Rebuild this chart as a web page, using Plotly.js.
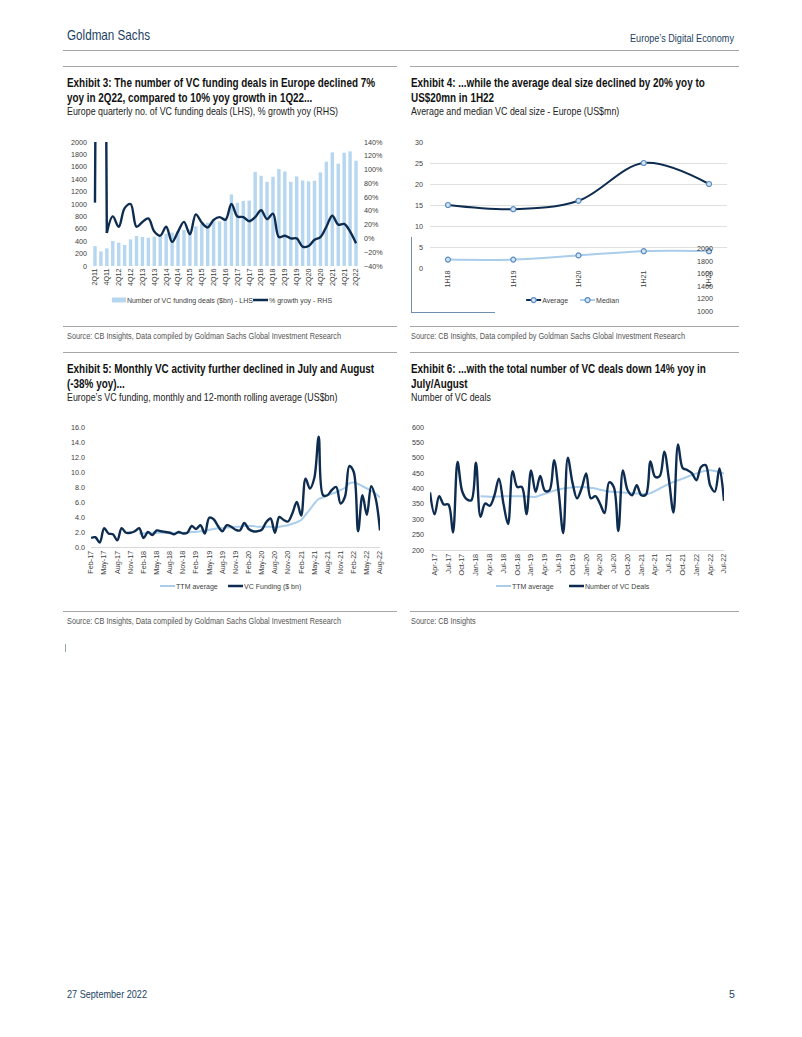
<!DOCTYPE html>
<html><head><meta charset="utf-8">
<script src="https://cdn.plot.ly/plotly-3.0.1.min.js"></script>
<style>
body{margin:0;background:#fff;}
#page{position:relative;width:802px;height:1037px;overflow:hidden;background:#fff;}
.t{position:absolute;white-space:nowrap;font-family:"Liberation Sans",Arial,sans-serif;color:#111;line-height:1.2;transform-origin:0 50%;}
.b{font-weight:bold;font-size:12.5px;}
.s{font-size:11px;color:#222;}
.src{font-size:8.3px;color:#555;}
.rule{position:absolute;height:0;border-top:1px solid #a6a6a6;}
.chart{position:absolute;}
.stray{position:absolute;font-family:"Liberation Sans",Arial,sans-serif;font-size:7.2px;color:#404040;}
</style></head>
<body><div id="page">
<div class="t" data-w="83" style="left:67px;top:27px;font-size:14.5px;color:#243f63;">Goldman Sachs</div>
<div class="t" data-w="104" style="left:630px;top:32px;font-size:10.5px;color:#243f63;">Europe’s Digital Economy</div>
<div class="rule" style="left:63px;top:50px;width:676px;"></div>

<div class="rule" style="left:63px;top:66px;width:334px;"></div>
<div class="rule" style="left:410px;top:66px;width:329px;"></div>
<div class="t b" data-ref="308" style="left:67px;top:76px;">Exhibit 3: The number of VC funding deals in Europe declined 7%</div>
<div class="t b" style="left:67px;top:91px;">yoy in 2Q22, compared to 10% yoy growth in 1Q22...</div>
<div class="t s" data-ref="271" style="left:67px;top:105px;">Europe quarterly no. of VC funding deals (LHS), % growth yoy (RHS)</div>
<div class="t b" style="left:411px;top:76px;">Exhibit 4: ...while the average deal size declined by 20% yoy to</div>
<div class="t b" style="left:411px;top:91px;">US$20mn in 1H22</div>
<div class="t s" style="left:411px;top:105px;">Average and median VC deal size - Europe (US$mn)</div>

<div class="rule" style="left:63px;top:326px;width:334px;"></div>
<div class="rule" style="left:410px;top:326px;width:329px;"></div>
<div class="t src" data-ref="274" style="left:67px;top:332px;">Source: CB Insights, Data compiled by Goldman Sachs Global Investment Research</div>
<div class="t src" style="left:411px;top:332px;">Source: CB Insights, Data compiled by Goldman Sachs Global Investment Research</div>

<div class="rule" style="left:63px;top:352px;width:334px;"></div>
<div class="rule" style="left:410px;top:352px;width:329px;"></div>
<div class="t b" style="left:67px;top:362px;">Exhibit 5: Monthly VC activity further declined in July and August</div>
<div class="t b" style="left:67px;top:377px;">(-38% yoy)...</div>
<div class="t s" style="left:67px;top:391px;">Europe’s VC funding, monthly and 12-month rolling average (US$bn)</div>
<div class="t b" style="left:411px;top:362px;">Exhibit 6: ...with the total number of VC deals down 14% yoy in</div>
<div class="t b" style="left:411px;top:377px;">July/August</div>
<div class="t s" style="left:411px;top:391px;">Number of VC deals</div>

<div class="rule" style="left:63px;top:611px;width:334px;"></div>
<div class="rule" style="left:410px;top:611px;width:329px;"></div>
<div class="t src" style="left:67px;top:617px;">Source: CB Insights, Data compiled by Goldman Sachs Global Investment Research</div>
<div class="t src" style="left:411px;top:617px;">Source: CB Insights</div>
<div style="position:absolute;left:65px;top:644px;width:0;height:8px;border-left:1px solid #9aa;"></div>

<div class="t" data-w="80" style="left:67px;top:988px;font-size:10.5px;color:#243f63;">27 September 2022</div>
<div class="t" style="left:729px;top:988px;font-size:10.5px;color:#243f63;">5</div>

<div id="ex3" class="chart" style="left:60px;top:130px;width:345px;height:190px;"></div>
<div id="ex4" class="chart" style="left:405px;top:130px;width:335px;height:190px;"></div>
<div style="position:absolute;left:411px;top:237px;width:83px;height:75px;border-left:1px solid #6f8fae;border-bottom:1px solid #6f8fae;"></div>
<div style="position:absolute;left:690px;top:243px;width:40px;height:71px;overflow:hidden;">
  <div class="stray" style="left:7px;top:1px;">2000</div>
  <div class="stray" style="left:7px;top:14px;">1800</div>
  <div class="stray" style="left:7px;top:26px;">1600</div>
  <div class="stray" style="left:7px;top:39px;">1400</div>
  <div class="stray" style="left:7px;top:51px;">1200</div>
  <div class="stray" style="left:7px;top:64px;">1000</div>
</div>
<div id="ex5" class="chart" style="left:55px;top:415px;width:345px;height:190px;"></div>
<div id="ex6" class="chart" style="left:405px;top:415px;width:335px;height:190px;"></div>
</div>
<script>
// condense texts: one horizontal scale per text style, taken from a reference line width
document.querySelectorAll(".t[data-w]").forEach(el => {
  const w = el.getBoundingClientRect().width;
  el.style.transform = "scaleX(" + (parseFloat(el.dataset.w) / w).toFixed(4) + ")";
});
["b","s","src"].forEach(cls => {
  const ref = document.querySelector(".t." + cls + "[data-ref]");
  const k = parseFloat(ref.dataset.ref) / ref.getBoundingClientRect().width;
  document.querySelectorAll(".t." + cls).forEach(el => { el.style.transform = "scaleX(" + k.toFixed(4) + ")"; });
});

// ---------- Exhibit 3 data ----------
const quarters = ["2Q11","3Q11","4Q11","1Q12","2Q12","3Q12","4Q12","1Q13","2Q13","3Q13","4Q13",
  "1Q14","2Q14","3Q14","4Q14","1Q15","2Q15","3Q15","4Q15","1Q16","2Q16","3Q16","4Q16",
  "1Q17","2Q17","3Q17","4Q17","1Q18","2Q18","3Q18","4Q18","1Q19","2Q19","3Q19","4Q19",
  "1Q20","2Q20","3Q20","4Q20","1Q21","2Q21","3Q21","4Q21","1Q22","2Q22"];
const vcDeals = [320,235,285,404,377,340,430,484,468,455,473,500,520,540,560,580,590,640,680,700,755,720,780,
  1155,1020,1050,1055,1515,1455,1358,1440,1563,1525,1358,1445,1380,1365,1375,1509,1682,1833,1650,1827,1849,1698];
const growthYoy = [52,1500,8,32,17,44,50,17,24,29,10,4,17,-5,10,24,6,35,23,16,27,31,27,
  50,32,31,25,31,41,28,36,2,4,0,0,-12,-11,-2,2,17,33,20,21,10,-7];

// ---------- Exhibit 4 data ----------
const halves = ["1H18","1H19","1H20","1H21","1H22"];
const avgDeal = [15,14,16,25,20];
const medianDeal = [2,2,3,4,4];

// ---------- Exhibit 5 / 6 data ----------
const months = ["Feb-17","Mar-17","Apr-17","May-17","Jun-17","Jul-17","Aug-17","Sep-17","Oct-17","Nov-17","Dec-17",
  "Jan-18","Feb-18","Mar-18","Apr-18","May-18","Jun-18","Jul-18","Aug-18","Sep-18","Oct-18","Nov-18","Dec-18",
  "Jan-19","Feb-19","Mar-19","Apr-19","May-19","Jun-19","Jul-19","Aug-19","Sep-19","Oct-19","Nov-19","Dec-19",
  "Jan-20","Feb-20","Mar-20","Apr-20","May-20","Jun-20","Jul-20","Aug-20","Sep-20","Oct-20","Nov-20","Dec-20",
  "Jan-21","Feb-21","Mar-21","Apr-21","May-21","Jun-21","Jul-21","Aug-21","Sep-21","Oct-21","Nov-21","Dec-21",
  "Jan-22","Feb-22","Mar-22","Apr-22","May-22","Jun-22","Jul-22","Aug-22"];
const vcFunding = [1.2,1.3,0.6,2.5,1.8,1.7,0.9,2.5,1.9,1.9,2.1,2.5,1.2,2.0,1.6,2.2,2.1,2.0,1.9,1.7,2.0,1.8,1.9,
  2.8,2.4,2.9,1.8,3.9,3.7,2.8,2.1,2.9,2.7,2.3,2.2,3.2,2.4,2.1,2.1,2.3,3.3,3.8,1.9,4.0,3.6,3.4,4.5,
  6.0,4.2,9.1,7.8,9.2,14.7,6.9,6.9,7.6,8.0,5.8,6.7,10.8,10.0,2.1,6.9,4.3,8.1,6.5,2.2];
const fundingTTMStart = "Jan-18";
const fundingTTM = [1.8,1.8,1.9,1.9,1.9,1.9,1.9,1.9,1.9,1.9,1.9,1.9,
  2.0,2.0,2.1,2.1,2.3,2.4,2.5,2.5,2.6,2.6,2.7,2.7,
  2.8,2.8,2.8,2.7,2.7,2.7,2.7,
  2.6,2.7,2.8,2.9,3.1,3.3,3.6,4.3,5.0,5.8,6.4,6.6,6.9,7.1,7.3,7.6,7.9,8.5,8.6,8.4,8.1,7.8,7.5,7.1,6.6];
const fundingTicks = ["Feb-17","May-17","Aug-17","Nov-17","Feb-18","May-18","Aug-18","Nov-18","Feb-19","May-19","Aug-19","Nov-19",
  "Feb-20","May-20","Aug-20","Nov-20","Feb-21","May-21","Aug-21","Nov-21","Feb-22","May-22","Aug-22"];

const dealsStart = "Mar-17", dealsEnd = "Jul-22";
const vcDealCount = [387,316,375,348,348,257,486,391,365,362,484,308,351,344,376,432,350,284,456,405,405,316,
  459,389,441,393,394,492,390,255,500,420,368,400,449,368,375,351,320,420,405,262,459,395,378,411,
  378,380,488,438,440,520,430,322,543,467,460,450,427,470,476,410,390,465,360];
const dealsTTMStart = "Feb-18";
const dealsTTM = [375,374,373,373,374,375,375,375,375,375,374,373,373,
  378,383,388,393,397,400,402,404,405,405,404,402,400,
  396,393,390,389,388,387,386,385,384,383,382,
  385,392,400,408,415,421,427,432,438,444,449,454,458,459,457,453,449];
const dealsTicks = ["Apr-17","Jul-17","Oct-17","Jan-18","Apr-18","Jul-18","Oct-18","Jan-19","Apr-19","Jul-19","Oct-19",
  "Jan-20","Apr-20","Jul-20","Oct-20","Jan-21","Apr-21","Jul-21","Oct-21","Jan-22","Apr-22","Jul-22"];

// ---------- styles ----------
const DARK = "#0e2c50", LIGHT = "#a9cdea", BAR = "#b7d7f0";
const FONT = {family:"Liberation Sans, Arial, sans-serif", size:7.2, color:"#404040"};
const LFONT = {family:"Liberation Sans, Arial, sans-serif", size:7, color:"#404040"};
const cfg = {staticPlot:true, displayModeBar:false};
const base = (m) => ({
  margin:Object.assign({autoexpand:false}, m), paper_bgcolor:"rgba(0,0,0,0)", plot_bgcolor:"rgba(0,0,0,0)", font:FONT, showlegend:true,
});
const legendAt = (x, y) => ({orientation:"h", xref:"container", yref:"container", x:x, xanchor:"left", y:y, yanchor:"middle",
  font:LFONT, bgcolor:"rgba(0,0,0,0)", itemwidth:30});

// Excel-like short legend keys placed right before the legend text
function shortKeys(gd){
  gd.querySelectorAll(".legendlines path").forEach(p => p.setAttribute("d", "M24,0h15"));
  gd.querySelectorAll(".legendpoints path").forEach(p => {
    if (p.classList.contains("scatterpts")) {
      p.setAttribute("transform", "translate(31.5,0)");
    } else {
      p.setAttribute("d", "M39,2.5H25V-2.5H39Z"); p.setAttribute("transform", "translate(0,0)");
    }
  });
}

// Exhibit 3
(function(){
  const tv = quarters.filter((q,i)=>i%2===0);
  const traces = [
    {type:"bar", x:quarters, y:vcDeals, name:"Number of VC funding deals ($bn) - LHS", marker:{color:BAR}, yaxis:"y", legend:"legend"},
    {type:"scatter", mode:"lines", x:quarters.slice(0,3), y:growthYoy.slice(0,3), yaxis:"y2", showlegend:false,
      line:{color:DARK, width:2.4}},
    {type:"scatter", mode:"lines", x:quarters.slice(2), y:growthYoy.slice(2), yaxis:"y2", name:"% growth yoy - RHS", legend:"legend2",
      line:{color:DARK, width:2.4, shape:"spline", smoothing:1}},
  ];
  const layout = Object.assign(base({l:32,r:46,t:12,b:54}), {
    bargap:0.42,
    xaxis:{type:"category", categoryarray:quarters, tickvals:tv, ticktext:tv, tickangle:-90, showgrid:false, showline:false, ticks:"", zeroline:false},
    yaxis:{range:[0,2000], dtick:200, showgrid:false, zeroline:false, ticks:"", ticklabelstandoff:4},
    yaxis2:{range:[-40,140], dtick:20, ticksuffix:"%", overlaying:"y", side:"right", showgrid:false, zeroline:false, ticks:"", ticklabelstandoff:4},
    legend:legendAt(0.078, 0.105),
    legend2:legendAt(0.49, 0.105),
  });
  Plotly.newPlot("ex3", traces, layout, cfg).then(shortKeys);
})();

// Exhibit 4
(function(){
  const mk = {symbol:"circle", size:5, color:"#d4e3f1", line:{color:"#5a8cc0", width:1.2}};
  const traces = [
    {type:"scatter", mode:"lines+markers", x:halves, y:avgDeal, name:"Average", legend:"legend", line:{color:DARK, width:2, shape:"spline"}, marker:mk},
    {type:"scatter", mode:"lines+markers", x:halves, y:medianDeal, name:"Median", legend:"legend2", line:{color:LIGHT, width:2, shape:"spline"}, marker:mk},
  ];
  const layout = Object.assign(base({l:25,r:13,t:12,b:52}), {
    xaxis:{type:"category", tickangle:-90, showgrid:false, showline:false, ticks:"", zeroline:false},
    yaxis:{range:[0,30], dtick:5, showgrid:true, gridcolor:"#e0e0e0", gridwidth:1, zeroline:false, showline:false, ticks:"", ticklabelstandoff:6},
    legend:legendAt(0.29, 0.105),
    legend2:legendAt(0.451, 0.105),
  });
  Plotly.newPlot("ex4", traces, layout, cfg).then(shortKeys);
})();

// Exhibit 5
(function(){
  const ttmX = months.slice(months.indexOf(fundingTTMStart));
  const traces = [
    {type:"scatter", mode:"lines", x:ttmX, y:fundingTTM, name:"TTM average", legend:"legend", line:{color:LIGHT, width:2, shape:"spline"}},
    {type:"scatter", mode:"lines", x:months, y:vcFunding, name:"VC Funding ($ bn)", legend:"legend2", line:{color:DARK, width:2.4, shape:"spline"}},
  ];
  const layout = Object.assign(base({l:36,r:20,t:12,b:58}), {
    xaxis:{type:"category", categoryarray:months, tickvals:fundingTicks, ticktext:fundingTicks, tickangle:-90, showgrid:false,
      showline:true, linecolor:"#d9d9d9", ticks:"", zeroline:false},
    yaxis:{range:[0,16], dtick:2, tickformat:".1f", showgrid:false, zeroline:false, ticks:"", ticklabelstandoff:5},
    legend:legendAt(0.235, 0.1),
    legend2:legendAt(0.432, 0.1),
  });
  Plotly.newPlot("ex5", traces, layout, cfg).then(shortKeys);
})();

// Exhibit 6
(function(){
  const dealMonths = months.slice(months.indexOf(dealsStart), months.indexOf(dealsEnd)+1);
  const ttmX = dealMonths.slice(dealMonths.indexOf(dealsTTMStart));
  const traces = [
    {type:"scatter", mode:"lines", x:ttmX, y:dealsTTM, name:"TTM average", legend:"legend", line:{color:LIGHT, width:2, shape:"spline"}},
    {type:"scatter", mode:"lines", x:dealMonths, y:vcDealCount, name:"Number of VC Deals", legend:"legend2", line:{color:DARK, width:2.4, shape:"spline"}},
  ];
  const layout = Object.assign(base({l:25,r:16,t:12,b:55}), {
    xaxis:{type:"category", categoryarray:dealMonths, tickvals:dealsTicks, ticktext:dealsTicks, tickangle:-90, showgrid:false,
      showline:true, linecolor:"#d9d9d9", ticks:"", zeroline:false},
    yaxis:{range:[200,600], dtick:50, showgrid:false, zeroline:false, ticks:"", ticklabelstandoff:5},
    legend:legendAt(0.2, 0.1),
    legend2:legendAt(0.418, 0.1),
  });
  Plotly.newPlot("ex6", traces, layout, cfg).then(shortKeys);
})();
</script>
</body></html>
